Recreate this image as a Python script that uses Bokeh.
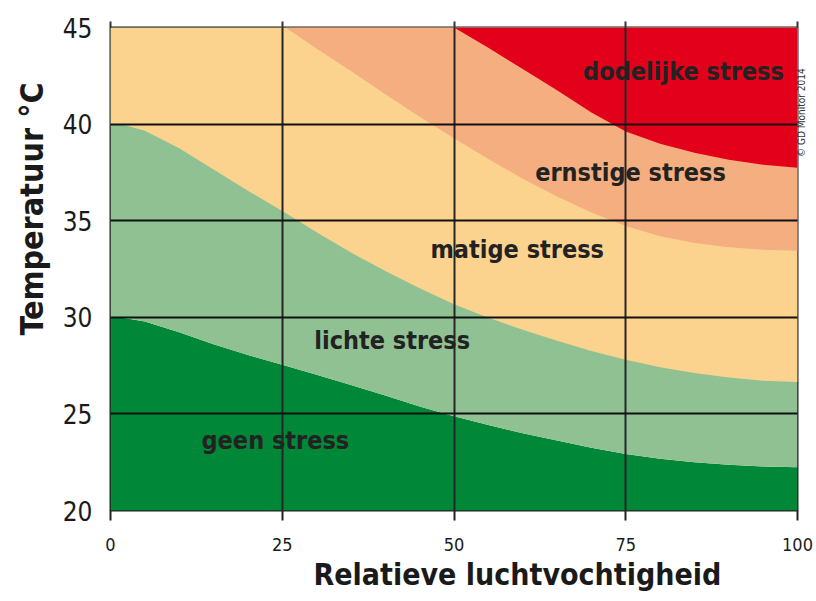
import math
from bokeh.plotting import figure
from bokeh.models import Range1d, Label, FixedTicker, LinearAxis, Title
from bokeh.embed import file_html
from bokeh.resources import INLINE

# ---- data ----
x_ticks = [0, 25, 50, 75, 100]
y_ticks = [20, 25, 30, 35, 40, 45]
grid_x = [25, 50, 75]
grid_y = [25, 30, 35, 40]

# boundary geen stress / lichte stress
b1_x = [0, 2, 5, 10, 15, 20, 25, 30, 35, 40, 45, 50, 55, 60, 65, 70, 75, 80, 85, 90, 95, 100]
b1_y = [30.0, 29.97, 29.78, 29.22, 28.6, 28.05, 27.55, 27.02, 26.5, 25.95, 25.38, 24.88,
        24.42, 24.0, 23.62, 23.25, 22.92, 22.68, 22.5, 22.37, 22.28, 22.24]
# boundary lichte stress / matige stress
b2_x = [0, 2, 5, 10, 15, 20, 25, 30, 35, 40, 45, 50, 55, 60, 65, 70, 75, 80, 85, 90, 95, 100]
b2_y = [40.0, 39.95, 39.65, 38.75, 37.65, 36.55, 35.5, 34.4, 33.35, 32.4, 31.5, 30.68,
        29.98, 29.35, 28.78, 28.25, 27.8, 27.42, 27.12, 26.88, 26.72, 26.65]
# boundary matige stress / ernstige stress
b3_x = [25.5, 30, 35, 40, 45, 50, 55, 60, 65, 70, 75, 80, 85, 90, 95, 100]
b3_y = [45.0, 43.9, 42.75, 41.55, 40.38, 39.27, 38.2, 37.17, 36.25, 35.42, 34.72,
        34.2, 33.85, 33.63, 33.5, 33.44]
# boundary ernstige stress / dodelijke stress
b4_x = [50, 55, 60, 65, 70, 75, 80, 85, 90, 95, 100]
b4_y = [45.0, 43.95, 42.85, 41.75, 40.6, 39.62, 38.98, 38.52, 38.15, 37.9, 37.74]

zone_names = ["geen stress", "lichte stress", "matige stress", "ernstige stress", "dodelijke stress"]
zone_colors = ["#008737", "#8fc192", "#fbd38f", "#f4ae80", "#e2001a"]
label_x = [24.0, 41.0, 59.2, 75.7, 83.4]
label_y = [23.6, 28.8, 33.5, 37.5, 42.7]

x_title = "Relatieve luchtvochtigheid"
y_title = "Temperatuur °C"
credit = "© GD Monitor 2014"
credit_y = 38.3

FONT = "DejaVu Sans Condensed"
INK = "#1a1a1a"

y_min, y_max = y_ticks[0], y_ticks[-1]

p = figure(width=816, height=600, output_backend="svg", toolbar_location=None,
           x_range=Range1d(x_ticks[0], x_ticks[-1]), y_range=Range1d(y_min, y_max),
           min_border_left=110, min_border_right=19, min_border_top=27, min_border_bottom=90,
           x_axis_location=None, y_axis_location=None)
p.background_fill_color = "white"
p.border_fill_color = "white"

# zones (painted bottom to top)
p.varea(x=b1_x, y1=y_min, y2=b1_y, fill_color=zone_colors[0])
p.varea(x=b1_x, y1=b1_y, y2=y_max, fill_color=zone_colors[1])
p.varea(x=b2_x, y1=b2_y, y2=y_max, fill_color=zone_colors[2])
p.varea(x=b3_x, y1=b3_y, y2=y_max, fill_color=zone_colors[3])
p.varea(x=b4_x, y1=b4_y, y2=y_max, fill_color=zone_colors[4])

# axes
bottom = LinearAxis(ticker=FixedTicker(ticks=x_ticks))
bottom.axis_line_color = None
bottom.major_tick_out = 10
bottom.major_tick_in = 0
bottom.major_tick_line_color = "#222222"
bottom.major_tick_line_width = 2
bottom.minor_tick_line_color = None
bottom.major_label_text_font = FONT
bottom.major_label_text_font_size = "18px"
bottom.major_label_text_color = INK
bottom.major_label_standoff = 17
p.add_layout(bottom, "below")

top = LinearAxis(ticker=FixedTicker(ticks=x_ticks))
top.axis_line_color = None
top.major_tick_out = 6
top.major_tick_in = 0
top.major_tick_line_color = "#333333"
top.major_tick_line_width = 2
top.minor_tick_line_color = None
top.major_label_text_font_size = "8px"
top.major_label_text_color = None
top.major_label_standoff = 0
p.add_layout(top, "above")

left = LinearAxis(ticker=FixedTicker(ticks=y_ticks))
left.axis_line_color = None
left.major_tick_line_color = None
left.minor_tick_line_color = None
left.major_label_text_font = FONT
left.major_label_text_font_size = "26px"
left.major_label_text_color = INK
left.major_label_standoff = 12
p.add_layout(left, "left")

# credit line, rotated to read upwards, right of the frame
right = LinearAxis(ticker=FixedTicker(ticks=[credit_y]))
right.axis_line_color = None
right.major_tick_line_color = None
right.minor_tick_line_color = None
right.major_tick_out = 0
right.major_tick_in = 0
right.major_label_overrides = {credit_y: credit}
right.major_label_orientation = math.pi / 2
right.major_label_text_font = FONT
right.major_label_text_font_size = "10px"
right.major_label_text_color = "#333333"
right.major_label_standoff = 4
p.add_layout(right, "right")

# grid on top of the zones
p.xgrid.ticker = FixedTicker(ticks=grid_x)
p.ygrid.ticker = FixedTicker(ticks=grid_y)
p.xgrid.grid_line_color = "#262626"
p.ygrid.grid_line_color = "#111111"
p.xgrid.grid_line_width = 2
p.ygrid.grid_line_width = 2
p.xgrid.level = "guide"
p.ygrid.level = "guide"

p.outline_line_color = "#222222"
p.outline_line_width = 2
p.outline_line_alpha = 1

# zone labels
for name, lx, ly in zip(zone_names, label_x, label_y):
    p.add_layout(Label(x=lx, y=ly, text=name, text_font=FONT, text_font_size="25px",
                       text_font_style="bold", text_color="#222222",
                       text_align="center", text_baseline="middle"))

# axis titles
p.add_layout(Title(text=x_title, align="left", offset=203, standoff=3,
                   text_font=FONT, text_font_size="30px", text_font_style="bold",
                   text_color=INK), "below")
p.add_layout(Title(text=y_title, align="left", offset=175, standoff=18,
                   text_font=FONT, text_font_size="32px", text_font_style="bold",
                   text_color=INK), "left")

open("out.html", "w").write(file_html(p, INLINE))
